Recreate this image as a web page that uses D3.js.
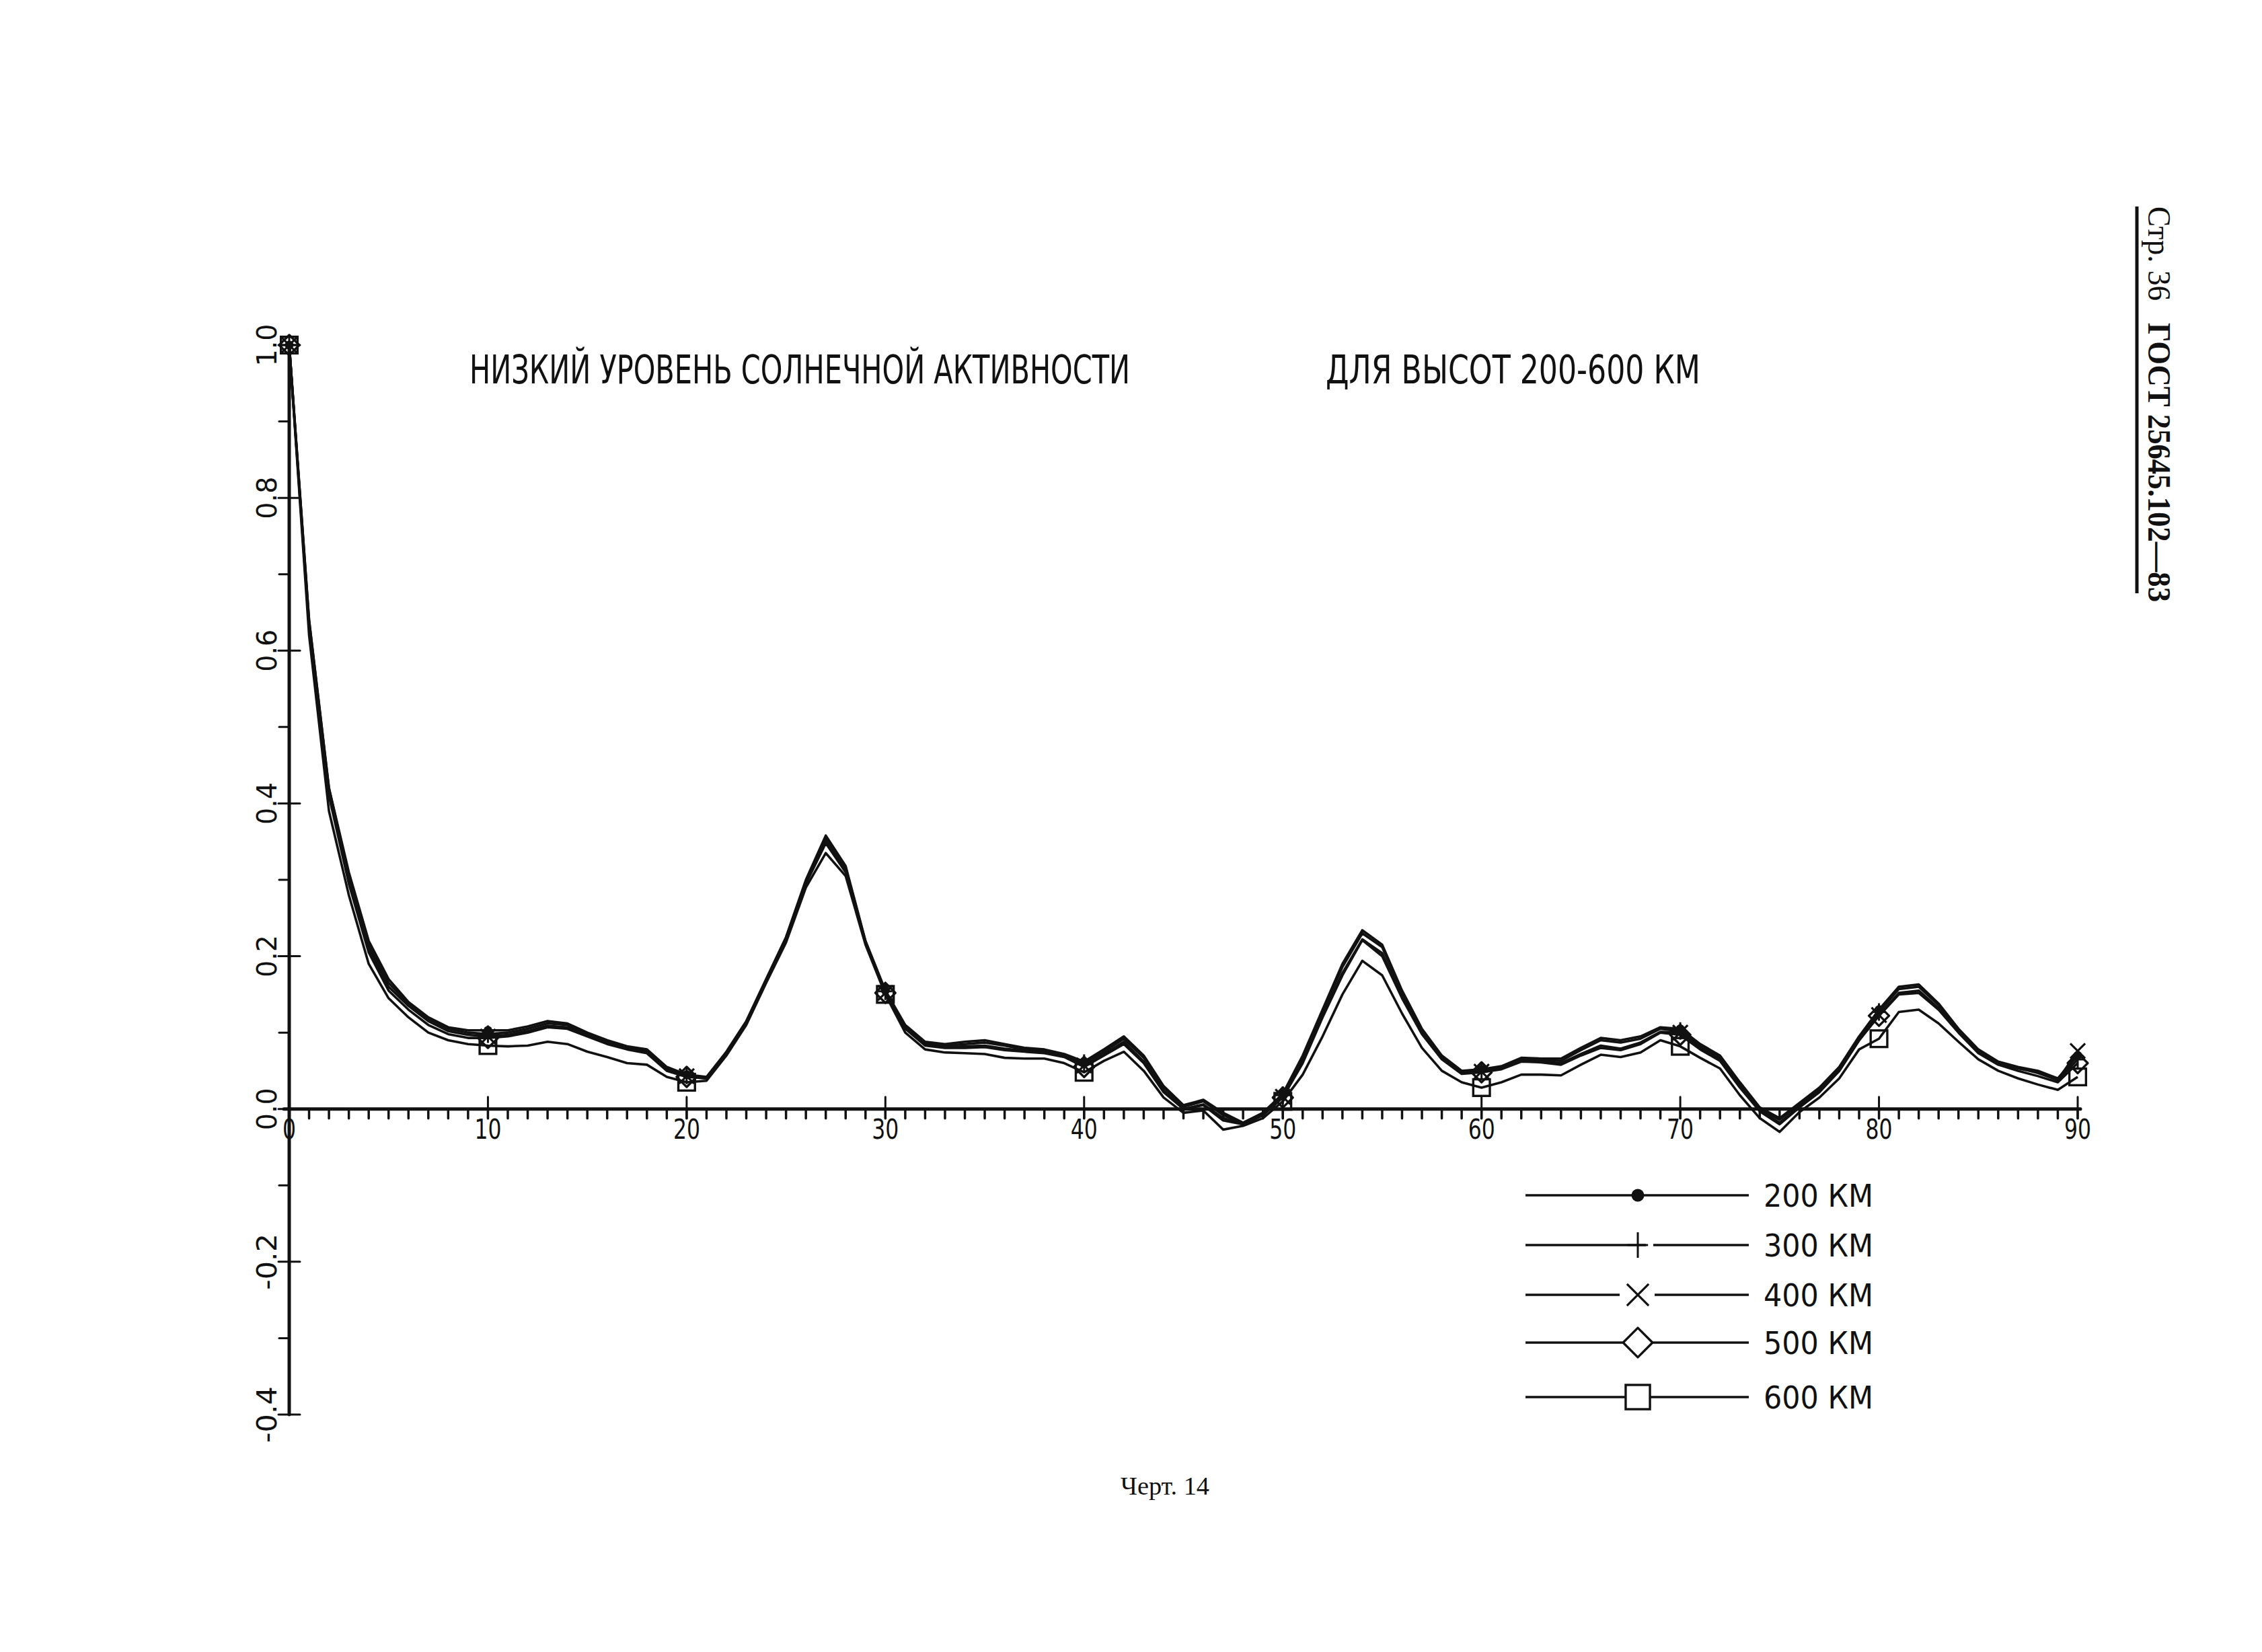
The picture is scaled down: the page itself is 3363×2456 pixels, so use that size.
<!DOCTYPE html>
<html><head><meta charset="utf-8">
<script src="https://cdn.jsdelivr.net/npm/d3@7/dist/d3.min.js"></script>
<style>html,body{margin:0;padding:0;background:#fff;}svg{display:block;}</style>
</head><body>
<svg id="chart" width="3363" height="2456"></svg>
<script>
// ---------------- data ----------------
const angles = [0,1,2,3,4,5,6,7,8,9,10,11,12,13,14,15,16,17,18,19,20,21,22,23,24,25,26,27,28,29,30,
  31,32,33,34,35,36,37,38,39,40,41,42,43,44,45,46,47,48,49,50,51,52,53,54,55,56,57,58,59,60,
  61,62,63,64,65,66,67,68,69,70,71,72,73,74,75,76,77,78,79,80,81,82,83,84,85,86,87,88,89,90];

const km200 = [
  1.0, 0.64, 0.42, 0.31, 0.22, 0.17, 0.14, 0.12, 0.107, 0.103,
  0.103, 0.103, 0.108, 0.115, 0.112, 0.10, 0.09, 0.082, 0.078, 0.055,
  0.045, 0.042, 0.075, 0.115, 0.17, 0.225, 0.30, 0.358, 0.318, 0.22,
  0.155, 0.11, 0.088, 0.085, 0.088, 0.09, 0.085, 0.08, 0.078, 0.072,
  0.062, 0.078, 0.095, 0.07, 0.03, 0.005, 0.012, -0.005, -0.018, -0.005,
  0.02, 0.07, 0.13, 0.19, 0.234, 0.215, 0.155, 0.105, 0.07, 0.05,
  0.052, 0.056, 0.067, 0.066, 0.066, 0.08, 0.093, 0.09, 0.095, 0.107,
  0.105, 0.085, 0.07, 0.035, 0.002, -0.012, 0.008, 0.028, 0.055, 0.095,
  0.13, 0.16, 0.163, 0.138, 0.105, 0.078, 0.062, 0.055, 0.05, 0.04,
  0.07];
const km300 = [
  1.0, 0.64, 0.42, 0.305, 0.215, 0.165, 0.138, 0.118, 0.105, 0.10,
  0.098, 0.10, 0.105, 0.112, 0.11, 0.098, 0.088, 0.08, 0.076, 0.053,
  0.044, 0.041, 0.074, 0.114, 0.169, 0.224, 0.298, 0.355, 0.316, 0.219,
  0.154, 0.108, 0.086, 0.083, 0.085, 0.087, 0.083, 0.078, 0.076, 0.07,
  0.06, 0.075, 0.092, 0.067, 0.028, 0.003, 0.01, -0.008, -0.019, -0.006,
  0.018, 0.067, 0.127, 0.186, 0.23, 0.212, 0.152, 0.103, 0.068, 0.049,
  0.05, 0.054, 0.065, 0.064, 0.063, 0.077, 0.09, 0.087, 0.092, 0.105,
  0.102, 0.083, 0.068, 0.033, 0.0, -0.014, 0.006, 0.026, 0.053, 0.093,
  0.127, 0.157, 0.16, 0.136, 0.103, 0.076, 0.06, 0.053, 0.048, 0.038,
  0.065];
const km400 = [
  1.0, 0.635, 0.415, 0.30, 0.21, 0.16, 0.135, 0.115, 0.102, 0.097,
  0.095, 0.097, 0.102, 0.109, 0.107, 0.096, 0.086, 0.079, 0.074, 0.051,
  0.043, 0.04, 0.073, 0.113, 0.168, 0.222, 0.296, 0.35, 0.312, 0.218,
  0.152, 0.106, 0.084, 0.081, 0.082, 0.083, 0.079, 0.076, 0.074, 0.069,
  0.057, 0.072, 0.088, 0.062, 0.024, 0.0, 0.006, -0.012, -0.02, -0.008,
  0.016, 0.063, 0.122, 0.178, 0.222, 0.204, 0.147, 0.099, 0.066, 0.047,
  0.049, 0.053, 0.063, 0.062, 0.06, 0.072, 0.083, 0.079, 0.087, 0.101,
  0.10, 0.08, 0.065, 0.03, -0.002, -0.018, 0.003, 0.023, 0.05, 0.09,
  0.123, 0.152, 0.155, 0.132, 0.101, 0.075, 0.06, 0.054, 0.047, 0.038,
  0.076];
const km500 = [
  1.0, 0.63, 0.41, 0.295, 0.205, 0.155, 0.13, 0.11, 0.098, 0.093,
  0.093, 0.095, 0.10, 0.107, 0.105, 0.095, 0.085, 0.078, 0.073, 0.05,
  0.042, 0.04, 0.073, 0.113, 0.168, 0.222, 0.295, 0.348, 0.31, 0.218,
  0.152, 0.105, 0.083, 0.08, 0.08, 0.081, 0.077, 0.075, 0.073, 0.068,
  0.055, 0.07, 0.085, 0.06, 0.022, 0.0, 0.005, -0.015, -0.02, -0.008,
  0.015, 0.06, 0.12, 0.175, 0.221, 0.20, 0.145, 0.098, 0.065, 0.046,
  0.048, 0.052, 0.062, 0.061, 0.058, 0.07, 0.08, 0.077, 0.085, 0.10,
  0.097, 0.078, 0.063, 0.028, -0.003, -0.02, 0.002, 0.022, 0.05, 0.09,
  0.122, 0.15, 0.152, 0.13, 0.10, 0.073, 0.058, 0.05, 0.043, 0.035,
  0.06];
const km600 = [
  1.0, 0.62, 0.39, 0.28, 0.19, 0.145, 0.12, 0.10, 0.09, 0.085,
  0.083, 0.082, 0.083, 0.088, 0.085, 0.075, 0.068, 0.06, 0.058, 0.042,
  0.035, 0.037, 0.07, 0.11, 0.165, 0.218, 0.29, 0.335, 0.305, 0.215,
  0.15, 0.10, 0.078, 0.074, 0.073, 0.072, 0.067, 0.066, 0.066, 0.06,
  0.048, 0.063, 0.075, 0.05, 0.015, -0.005, -0.002, -0.027, -0.022, -0.012,
  0.01, 0.045, 0.095, 0.15, 0.194, 0.175, 0.125, 0.08, 0.05, 0.035,
  0.028, 0.035, 0.045, 0.045, 0.044, 0.058, 0.071, 0.068, 0.074, 0.09,
  0.082, 0.067, 0.053, 0.018, -0.012, -0.03, -0.004, 0.015, 0.04, 0.078,
  0.092, 0.127, 0.13, 0.112, 0.088, 0.065, 0.05, 0.04, 0.032, 0.025,
  0.042];

const seriesLabels = ["200 КМ", "300 КМ", "400 КМ", "500 КМ", "600 КМ"];
const seriesMarkers = ["dot", "plus", "cross", "diamond", "square"];
const markerAngles = [0, 10, 20, 30, 40, 50, 60, 70, 80, 90];
const xTickLabels = ["0", "10", "20", "30", "40", "50", "60", "70", "80", "90"];
const xMinorTicks = angles;
const yTickValues = [-0.4, -0.2, 0.0, 0.2, 0.4, 0.6, 0.8, 1.0];
const yTickLabels = ["-0.4", "-0.2", "0.0", "0.2", "0.4", "0.6", "0.8", "1.0"];
const yMinorTicks = [-0.3, -0.1, 0.1, 0.3, 0.5, 0.7, 0.9];
const titleLeft = "НИЗКИЙ УРОВЕНЬ СОЛНЕЧНОЙ АКТИВНОСТИ";
const titleRight = "ДЛЯ ВЫСОТ 200-600 КМ";
const caption = "Черт. 14";
const headerPage = "Стр. 36";
const headerStd = "ГОСТ 25645.102—83";

// ---------------- drawing ----------------
const allSeries = [km200, km300, km400, km500, km600];
const svg = d3.select("#chart");
svg.append("rect").attr("width", 3363).attr("height", 2456).attr("fill", "#fff");

const x = d3.scaleLinear().domain([0, 90]).range([430, 3089]);
const y = d3.scaleLinear().domain([-0.4, 1.0]).range([2103, 513]);

const plotFont = "'Liberation Sans Narrow','DejaVu Sans Condensed','Liberation Sans',sans-serif";
const ink = "#111";

// axes
const ax = svg.append("g").attr("stroke", ink).attr("fill", "none").attr("stroke-linecap", "round");
ax.append("line").attr("x1", x(0)).attr("x2", x(0)).attr("y1", y(1.0) - 4).attr("y2", y(-0.4)).attr("stroke-width", 5);
ax.append("line").attr("x1", x(0) - 8).attr("x2", x(90) + 4).attr("y1", y(0)).attr("y2", y(0)).attr("stroke-width", 5);

// x minor ticks (below)
ax.selectAll(".xm").data(xMinorTicks).join("line")
  .attr("x1", d => x(d)).attr("x2", d => x(d))
  .attr("y1", y(0)).attr("y2", y(0) + 14).attr("stroke-width", 3.5);
// x major ticks (crossing)
ax.selectAll(".xM").data(markerAngles).join("line")
  .attr("x1", d => x(d)).attr("x2", d => x(d))
  .attr("y1", y(0) - 18).attr("y2", y(0) + 14).attr("stroke-width", 3);
// y minor ticks (left)
ax.selectAll(".ym").data(yMinorTicks).join("line")
  .attr("x1", x(0) - 15).attr("x2", x(0))
  .attr("y1", d => y(d)).attr("y2", d => y(d)).attr("stroke-width", 3);
// y major ticks (crossing)
ax.selectAll(".yM").data(yTickValues).join("line")
  .attr("x1", x(0) - 16).attr("x2", x(0) + 16)
  .attr("y1", d => y(d)).attr("y2", d => y(d)).attr("stroke-width", 3);

// x tick labels
svg.append("g").selectAll("text").data(markerAngles).join("text")
  .attr("x", d => x(d)).attr("y", y(0) + 44)
  .attr("text-anchor", "middle").attr("font-family", plotFont).attr("font-size", 40)
  .attr("fill", ink)
  .attr("textLength", (d, i) => xTickLabels[i].length * 20).attr("lengthAdjust", "spacingAndGlyphs")
  .text((d, i) => xTickLabels[i]);

// y tick labels (rotated, reading upward)
svg.append("g").selectAll("text").data(yTickValues).join("text")
  .attr("transform", d => `translate(${x(0) - 19},${y(d)}) rotate(-90)`)
  .attr("text-anchor", "middle").attr("font-family", plotFont).attr("font-size", 40)
  .attr("fill", ink)
  .attr("textLength", (d, i) => yTickLabels[i].length * 21).attr("lengthAdjust", "spacingAndGlyphs")
  .text((d, i) => yTickLabels[i]);

// series lines
const line = d3.line().x((d, i) => x(angles[i])).y(d => y(d)).curve(d3.curveLinear);
svg.append("g").selectAll("path").data(allSeries).join("path")
  .attr("d", d => line(d)).attr("fill", "none").attr("stroke", ink)
  .attr("stroke-width", 3.6).attr("stroke-linejoin", "round");

// marker drawing
function drawMarker(g, type, cx, cy, s, fill) {
  if (type === "dot") {
    g.append("circle").attr("cx", cx).attr("cy", cy).attr("r", s * 0.5).attr("fill", ink);
  } else if (type === "plus") {
    g.append("path").attr("d", `M${cx - s * 0.8},${cy}H${cx + s * 0.8}M${cx},${cy - s}V${cy + s}`)
      .attr("stroke", ink).attr("stroke-width", 3).attr("fill", "none");
  } else if (type === "cross") {
    const h = s * 0.85;
    g.append("path").attr("d", `M${cx - h},${cy - h}L${cx + h},${cy + h}M${cx - h},${cy + h}L${cx + h},${cy - h}`)
      .attr("stroke", ink).attr("stroke-width", 3.2).attr("fill", "none");
  } else if (type === "diamond") {
    const h = s * 1.15;
    g.append("path").attr("d", `M${cx},${cy - h}L${cx + h},${cy}L${cx},${cy + h}L${cx - h},${cy}Z`)
      .attr("stroke", ink).attr("stroke-width", 3.4).attr("fill", fill).attr("stroke-linejoin", "round");
  } else if (type === "square") {
    const h = s * 0.95;
    g.append("rect").attr("x", cx - h).attr("y", cy - h).attr("width", 2 * h).attr("height", 2 * h)
      .attr("stroke", ink).attr("stroke-width", 3.4).attr("fill", fill);
  }
}

// markers on curves
const mg = svg.append("g");
allSeries.forEach((s, si) => {
  markerAngles.forEach(a => {
    const idx = angles.indexOf(a);
    drawMarker(mg, seriesMarkers[si], x(a), y(s[idx]), 13, "none");
  });
});

// legend
const legendRows = [1777, 1851, 1925, 1996, 2077];
const lg = svg.append("g");
seriesLabels.forEach((lab, i) => {
  const ry = legendRows[i];
  lg.append("line").attr("x1", 2268).attr("x2", 2600).attr("y1", ry).attr("y2", ry)
    .attr("stroke", ink).attr("stroke-width", 3.6);
  if (seriesMarkers[i] === "plus") {
    lg.append("rect").attr("x", 2447).attr("y", ry - 6).attr("width", 11).attr("height", 12).attr("fill", "#fff");
  }
  if (seriesMarkers[i] === "cross") {
    lg.append("rect").attr("x", 2408).attr("y", ry - 6).attr("width", 52).attr("height", 12).attr("fill", "#fff");
  }
  drawMarker(lg, seriesMarkers[i], 2435, ry, seriesMarkers[i] === "dot" ? 19 : 19, "#fff");
  lg.append("text").attr("x", 2622).attr("y", ry + 17)
    .attr("font-family", plotFont).attr("font-size", 46).attr("fill", ink)
    .attr("textLength", 163).attr("lengthAdjust", "spacingAndGlyphs")
    .text(lab);
});

// titles
svg.append("text").attr("x", 698).attr("y", 570)
  .attr("font-family", plotFont).attr("font-size", 58).attr("fill", ink)
  .attr("textLength", 982).attr("lengthAdjust", "spacingAndGlyphs").text(titleLeft);
svg.append("text").attr("x", 1971).attr("y", 570)
  .attr("font-family", plotFont).attr("font-size", 58).attr("fill", ink)
  .attr("textLength", 557).attr("lengthAdjust", "spacingAndGlyphs").text(titleRight);

// caption
svg.append("text").attr("x", 1666).attr("y", 2222)
  .attr("font-family", "'Liberation Serif','DejaVu Serif',serif").attr("font-size", 38).attr("fill", ink)
  .attr("textLength", 132).attr("lengthAdjust", "spacingAndGlyphs").text(caption);

// page header (rotated, right margin)
svg.append("line").attr("x1", 3177).attr("x2", 3177).attr("y1", 307).attr("y2", 882)
  .attr("stroke", ink).attr("stroke-width", 5);
svg.append("text").attr("transform", "translate(3194,307) rotate(90)")
  .attr("font-family", "'Liberation Serif','DejaVu Serif',serif").attr("font-size", 48).attr("fill", ink)
  .attr("textLength", 140).attr("lengthAdjust", "spacingAndGlyphs").text(headerPage);
svg.append("text").attr("transform", "translate(3194,480) rotate(90)")
  .attr("font-family", "'Liberation Serif','DejaVu Serif',serif").attr("font-size", 48).attr("font-weight", "bold").attr("fill", ink)
  .attr("textLength", 415).attr("lengthAdjust", "spacingAndGlyphs").text(headerStd);
</script>
</body></html>
